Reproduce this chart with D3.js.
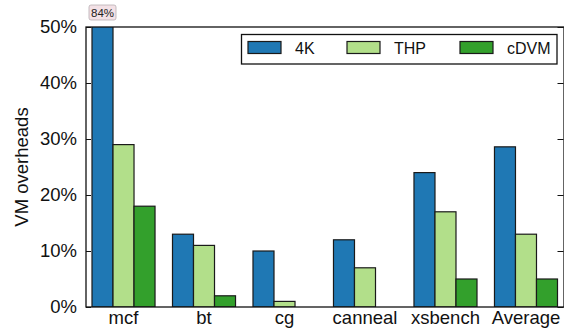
<!DOCTYPE html>
<html>
<head>
<meta charset="utf-8">
<script src="https://cdn.jsdelivr.net/npm/d3@7"></script>
<style>
  html, body { margin: 0; padding: 0; background: #fff; }
  svg { display: block; font-family: "Liberation Sans", Arial, Helvetica, sans-serif; }
</style>
</head>
<body>
<svg id="chart" width="564" height="332"></svg>
<script>
// Benchmarks along the x axis
const categories = ["mcf", "bt", "cg", "canneal", "xsbench", "Average"];
// Series names and colours
const seriesNames = ["4K", "THP", "cDVM"];
const seriesColors = ["#1f78b4", "#b2df8a", "#33a02c"];
// Overheads in percent, one array per series
const overhead4K   = [84, 13, 10, 12, 24, 28.6];
const overheadTHP  = [29, 11, 1, 7, 17, 13];
const overheadCDVM = [18, 2, 0, 0, 5, 5];
const yTicks = [0, 10, 20, 30, 40, 50];

const seriesValues = [overhead4K, overheadTHP, overheadCDVM];

const svg = d3.select("#chart");
const plotLeft = 86, plotRight = 564, plotTop = 27, plotBottom = 307;
const axisFont = 18.5, legendFont = 16;

const x = d3.scaleBand().domain(categories).range([92, 557.5]).paddingInner(0.217).paddingOuter(0);
const xs = d3.scaleBand().domain(seriesNames).range([0, x.bandwidth()]).padding(0);
const y = d3.scaleLinear().domain([0, 50]).range([plotBottom, plotTop]);

svg.append("defs").append("clipPath").attr("id", "plotClip")
  .append("rect").attr("x", plotLeft).attr("y", plotTop)
  .attr("width", plotRight - plotLeft).attr("height", plotBottom - plotTop);

// Bars
const plot = svg.append("g").attr("clip-path", "url(#plotClip)");
seriesNames.forEach((s, si) => {
  plot.append("g").selectAll("rect")
    .data(categories.map((c, i) => ({ c, v: seriesValues[si][i] })).filter(d => d.v > 0))
    .join("rect")
    .attr("x", d => x(d.c) + xs(s))
    .attr("y", d => y(d.v))
    .attr("width", xs.bandwidth())
    .attr("height", d => y(0) - y(d.v))
    .attr("fill", seriesColors[si])
    .attr("stroke", "#1a1a1a")
    .attr("stroke-width", 1.2);
});

// Frame
svg.append("rect").attr("x", plotLeft).attr("y", plotTop)
  .attr("width", plotRight - plotLeft).attr("height", plotBottom - plotTop)
  .attr("fill", "none").attr("stroke", "#111").attr("stroke-width", 1.3);

// Left axis with inward ticks
const yAxisL = svg.append("g").attr("transform", `translate(${plotLeft},0)`)
  .call(d3.axisLeft(y).tickValues(yTicks).tickSize(-5).tickPadding(9).tickFormat(d => d + "%"));
yAxisL.select(".domain").remove();
yAxisL.selectAll("line").attr("stroke", "#111");
yAxisL.selectAll("text").attr("font-size", axisFont).attr("fill", "#111")
  .attr("font-family", "Liberation Sans, Arial, sans-serif");

// Right axis ticks (no labels)
const yAxisR = svg.append("g").attr("transform", `translate(${plotRight - 0.5},0)`)
  .call(d3.axisRight(y).tickValues(yTicks).tickSize(-6).tickFormat(""));
yAxisR.select(".domain").remove();
yAxisR.selectAll("line").attr("stroke", "#111");

// X axis labels
const xAxis = svg.append("g").attr("transform", `translate(0,${plotBottom})`)
  .call(d3.axisBottom(x).tickSize(0).tickPadding(4));
xAxis.select(".domain").remove();
xAxis.selectAll("text").attr("font-size", axisFont).attr("fill", "#111")
  .attr("font-family", "Liberation Sans, Arial, sans-serif");

// Y axis title
svg.append("text")
  .attr("transform", `translate(21,${(plotTop + plotBottom) / 2}) rotate(-90)`)
  .attr("text-anchor", "middle").attr("dominant-baseline", "central")
  .attr("font-size", axisFont).attr("fill", "#111")
  .text("VM overheads");

// Value label for the clipped bar
const clipped = categories.map((c, i) => ({ c, v: overhead4K[i] })).filter(d => d.v > 50);
clipped.forEach(d => {
  const cx = x(d.c) + xs("4K") + xs.bandwidth() / 2;
  const g = svg.append("g");
  const t = g.append("text").attr("x", cx).attr("y", 12.5)
    .attr("text-anchor", "middle").attr("dominant-baseline", "central")
    .attr("font-size", 11.5).attr("fill", "#222").text(d.v + "%");
  const bb = t.node().getBBox();
  g.insert("rect", "text")
    .attr("x", bb.x - 2).attr("y", 5).attr("width", bb.width + 4).attr("height", 15)
    .attr("rx", 2).attr("fill", "#f3e1e6").attr("stroke", "#b8aeb2").attr("stroke-width", 0.8);
});

// Legend
const lg = svg.append("g");
lg.append("rect").attr("x", 241.5).attr("y", 34.5).attr("width", 315.5).attr("height", 29.5)
  .attr("fill", "#fff").attr("stroke", "#111").attr("stroke-width", 1.3);
const legendX = [248, 347, 460];
seriesNames.forEach((s, i) => {
  lg.append("rect").attr("x", legendX[i]).attr("y", 41.5).attr("width", 33).attr("height", 12)
    .attr("fill", seriesColors[i]).attr("stroke", "#1a1a1a").attr("stroke-width", 1.2);
  lg.append("text").attr("x", legendX[i] + 47).attr("y", 48)
    .attr("dominant-baseline", "central").attr("font-size", legendFont).attr("fill", "#111").text(s);
});
</script>
</body>
</html>
